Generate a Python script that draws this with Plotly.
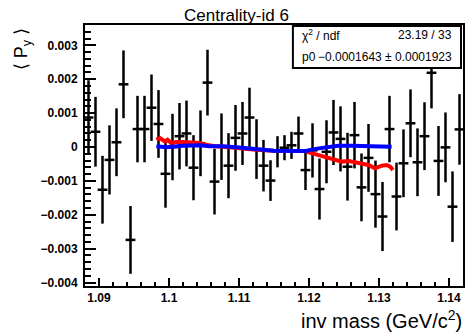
import plotly.graph_objects as go

# ---- data ----
bin_centers = [round(1.0885 + 0.001 * i, 4) for i in range(54)]
py_vals = [0.00087, 0.00045, -0.00126, -0.00038, 0.00014, 0.00185, -0.00274, 0.00053, 0.00053, 0.00116,
           0.00068, -0.00079, 0.00000, 0.00032, 0.00040, -0.00061, 0.00011, 0.00190, -0.00102, 0.00001,
           -0.00055, 0.00027, 0.00040, 0.00087, -0.00006, -0.00055, -0.00099, -0.00014, -0.00002, 0.00005,
           0.00040, -0.00068, -0.00010, -0.00124, -0.00014, 0.00043, 0.00024, -0.00058, 0.00035, -0.00119,
           -0.00032, -0.00139, -0.00205, 0.00053, -0.00146, -0.00048, 0.00070, -0.00045, 0.00032, 0.00219,
           -0.00041, -0.00001, -0.00176, 0.00052]
py_errs = [0.00110, 0.00103, 0.00100, 0.00102, 0.00100, 0.00100, 0.00100, 0.00098, 0.00098, 0.00098,
           0.00100, 0.00100, 0.00098, 0.00098, 0.00097, 0.00096, 0.00097, 0.00097, 0.00097, 0.00098,
           0.00096, 0.00097, 0.00093, 0.00088, 0.00088, 0.00076, 0.00060, 0.00046, 0.00037, 0.00040,
           0.00050, 0.00059, 0.00080, 0.00090, 0.00093, 0.00096, 0.00096, 0.00100, 0.00098, 0.00100,
           0.00100, 0.00099, 0.00102, 0.00098, 0.00100, 0.00100, 0.00100, 0.00100, 0.00100, 0.00105,
           0.00103, 0.00103, 0.00104, 0.00104]

red_x = [1.0982, 1.0987, 1.0994, 1.0998, 1.1003, 1.1010, 1.1020, 1.1029, 1.1044, 1.1053, 1.1067, 1.1086,
         1.1105, 1.1124, 1.1150, 1.1195, 1.1200, 1.1214, 1.1223, 1.1238, 1.1247, 1.1257, 1.1266, 1.1275,
         1.1285, 1.1294, 1.1304, 1.1311, 1.1316, 1.1320]
red_y = [0.000215, 0.000265, 0.000168, 0.000215, 0.000118, 0.000147, 0.000147, 0.000138, 0.000118, 0.000068,
         0.000020, -0.000009, -0.000050, -0.000080, -0.000110, -0.000120, -0.000156, -0.000235, -0.000285,
         -0.000380, -0.000430, -0.000410, -0.000450, -0.000480, -0.000530, -0.000630, -0.000550, -0.000530,
         -0.000580, -0.000680]

blue_x = [1.0982, 1.0996, 1.1020, 1.1044, 1.1058, 1.1077, 1.1096, 1.1115, 1.1133, 1.1150, 1.1195, 1.1200,
          1.1214, 1.1228, 1.1242, 1.1261, 1.1275, 1.1285, 1.1299, 1.1309, 1.1318]
blue_y = [0.00002, -0.00001, 0.00004, 0.00005, 0.00002, 0.00002, -0.00001, -0.00005, -0.00009, -0.00011,
          -0.00012, -0.00009, -0.00004, 0.00001, 0.00004, 0.00004, 0.00003, 0.00004, 0.00001, 0.00003, 0.00001]

x_tick_vals = [1.09, 1.10, 1.11, 1.12, 1.13, 1.14]
x_tick_text = ["1.09", "1.1", "1.11", "1.12", "1.13", "1.14"]
y_tick_vals = [0.003, 0.002, 0.001, 0.0, -0.001, -0.002, -0.003, -0.004]
y_tick_text = ["0.003", "0.002", "0.001", "0", "\u22120.001", "\u22120.002", "\u22120.003", "\u22120.004"]

title_text = "Centrality-id 6"
x_title = "inv mass (GeV/c<sup>2</sup>)"
y_title = "\u27e8 P<sub>y</sub> \u27e9"
stat_lines = [("\u03c7<sup>2</sup> / ndf", "23.19 / 33"),
              ("p0", "\u22120.0001643 \u00b1 0.0001923")]

# ---- figure ----
W, H = 467, 334
L, R, T, B = 85, 2, 25, 48
PW, PH = W - L - R, H - T - B


def px_x(p):
    return (p - L) / PW


def px_y(p):
    return 1 - (p - T) / PH


FONT = "Liberation Sans, Arial, sans-serif"

fig = go.Figure()
fig.add_trace(go.Scatter(
    x=bin_centers, y=py_vals, mode="markers",
    marker=dict(symbol="line-ew", size=7, color="black", line=dict(width=2.5, color="black")),
    error_y=dict(type="data", array=py_errs, visible=True, color="black", thickness=2.5, width=0),
    showlegend=False, cliponaxis=True, hoverinfo="skip",
))
fig.add_trace(go.Scatter(x=red_x, y=red_y, mode="lines", line=dict(color="#ff0000", width=4),
                         showlegend=False, hoverinfo="skip"))
fig.add_trace(go.Scatter(x=blue_x, y=blue_y, mode="lines", line=dict(color="#0000ff", width=4),
                         showlegend=False, hoverinfo="skip"))

fig.update_layout(
    width=W, height=H,
    margin=dict(l=L, r=R, t=T, b=B, pad=0),
    paper_bgcolor="white", plot_bgcolor="white",
    font=dict(family=FONT, color="black"),
    xaxis=dict(
        range=[1.088, 1.142], showgrid=False, zeroline=False,
        showline=True, linecolor="black", linewidth=2, mirror=True,
        tickmode="array", tickvals=x_tick_vals, ticktext=x_tick_text,
        ticks="inside", ticklen=8, tickwidth=2, tickcolor="black",
        tickfont=dict(family=FONT, size=12, weight="bold"),
        ticklabelstandoff=0,
        minor=dict(tickmode="linear", tick0=1.088, dtick=0.002, ticks="inside", ticklen=4,
                   tickwidth=2, tickcolor="black", showgrid=False),
    ),
    yaxis=dict(
        range=[-0.0041, 0.0036], showgrid=False, zeroline=False,
        showline=True, linecolor="black", linewidth=2, mirror=True,
        tickmode="array", tickvals=y_tick_vals, ticktext=y_tick_text,
        ticks="inside", ticklen=11, tickwidth=2, tickcolor="black",
        tickfont=dict(family=FONT, size=12, weight="bold"),
        ticklabelstandoff=3,
        minor=dict(tickmode="linear", tick0=0, dtick=0.0002, ticks="inside", ticklen=6,
                   tickwidth=2, tickcolor="black", showgrid=False),
    ),
)

# stat box (drawn above data, like ROOT's TPaveStats)
fig.add_shape(type="rect", xref="paper", yref="paper",
              x0=px_x(294), x1=px_x(463), y0=px_y(68), y1=px_y(26),
              fillcolor="white", line=dict(color="black", width=2), layer="above")

row_y = [35, 57]
for (lab, val), yy in zip(stat_lines, row_y):
    fig.add_annotation(xref="paper", yref="paper", x=px_x(301), y=px_y(yy), text=lab,
                       showarrow=False, xanchor="left", yanchor="middle",
                       font=dict(family=FONT, size=12, color="black"))
    fig.add_annotation(xref="paper", yref="paper", x=px_x(456), y=px_y(yy), text=val,
                       showarrow=False, xanchor="right", yanchor="middle",
                       font=dict(family=FONT, size=12, color="black"))

# title
fig.add_annotation(xref="paper", yref="paper", x=px_x(237.5), y=px_y(16), text=title_text,
                   showarrow=False, xanchor="center", yanchor="middle",
                   font=dict(family=FONT, size=17, color="black"))
# axis titles
fig.add_annotation(xref="paper", yref="paper", x=px_x(466), y=px_y(319), text=x_title,
                   showarrow=False, xanchor="right", yanchor="middle",
                   font=dict(family=FONT, size=20, color="black"))
fig.add_annotation(xref="paper", yref="paper", x=px_x(22), y=px_y(49), text=y_title,
                   showarrow=False, xanchor="center", yanchor="middle", textangle=-90,
                   font=dict(family=FONT, size=18, color="black"))

fig.write_html("out.html", config={"displayModeBar": False},
               post_script="document.body.style.margin='0px';document.body.style.overflow='hidden';")
